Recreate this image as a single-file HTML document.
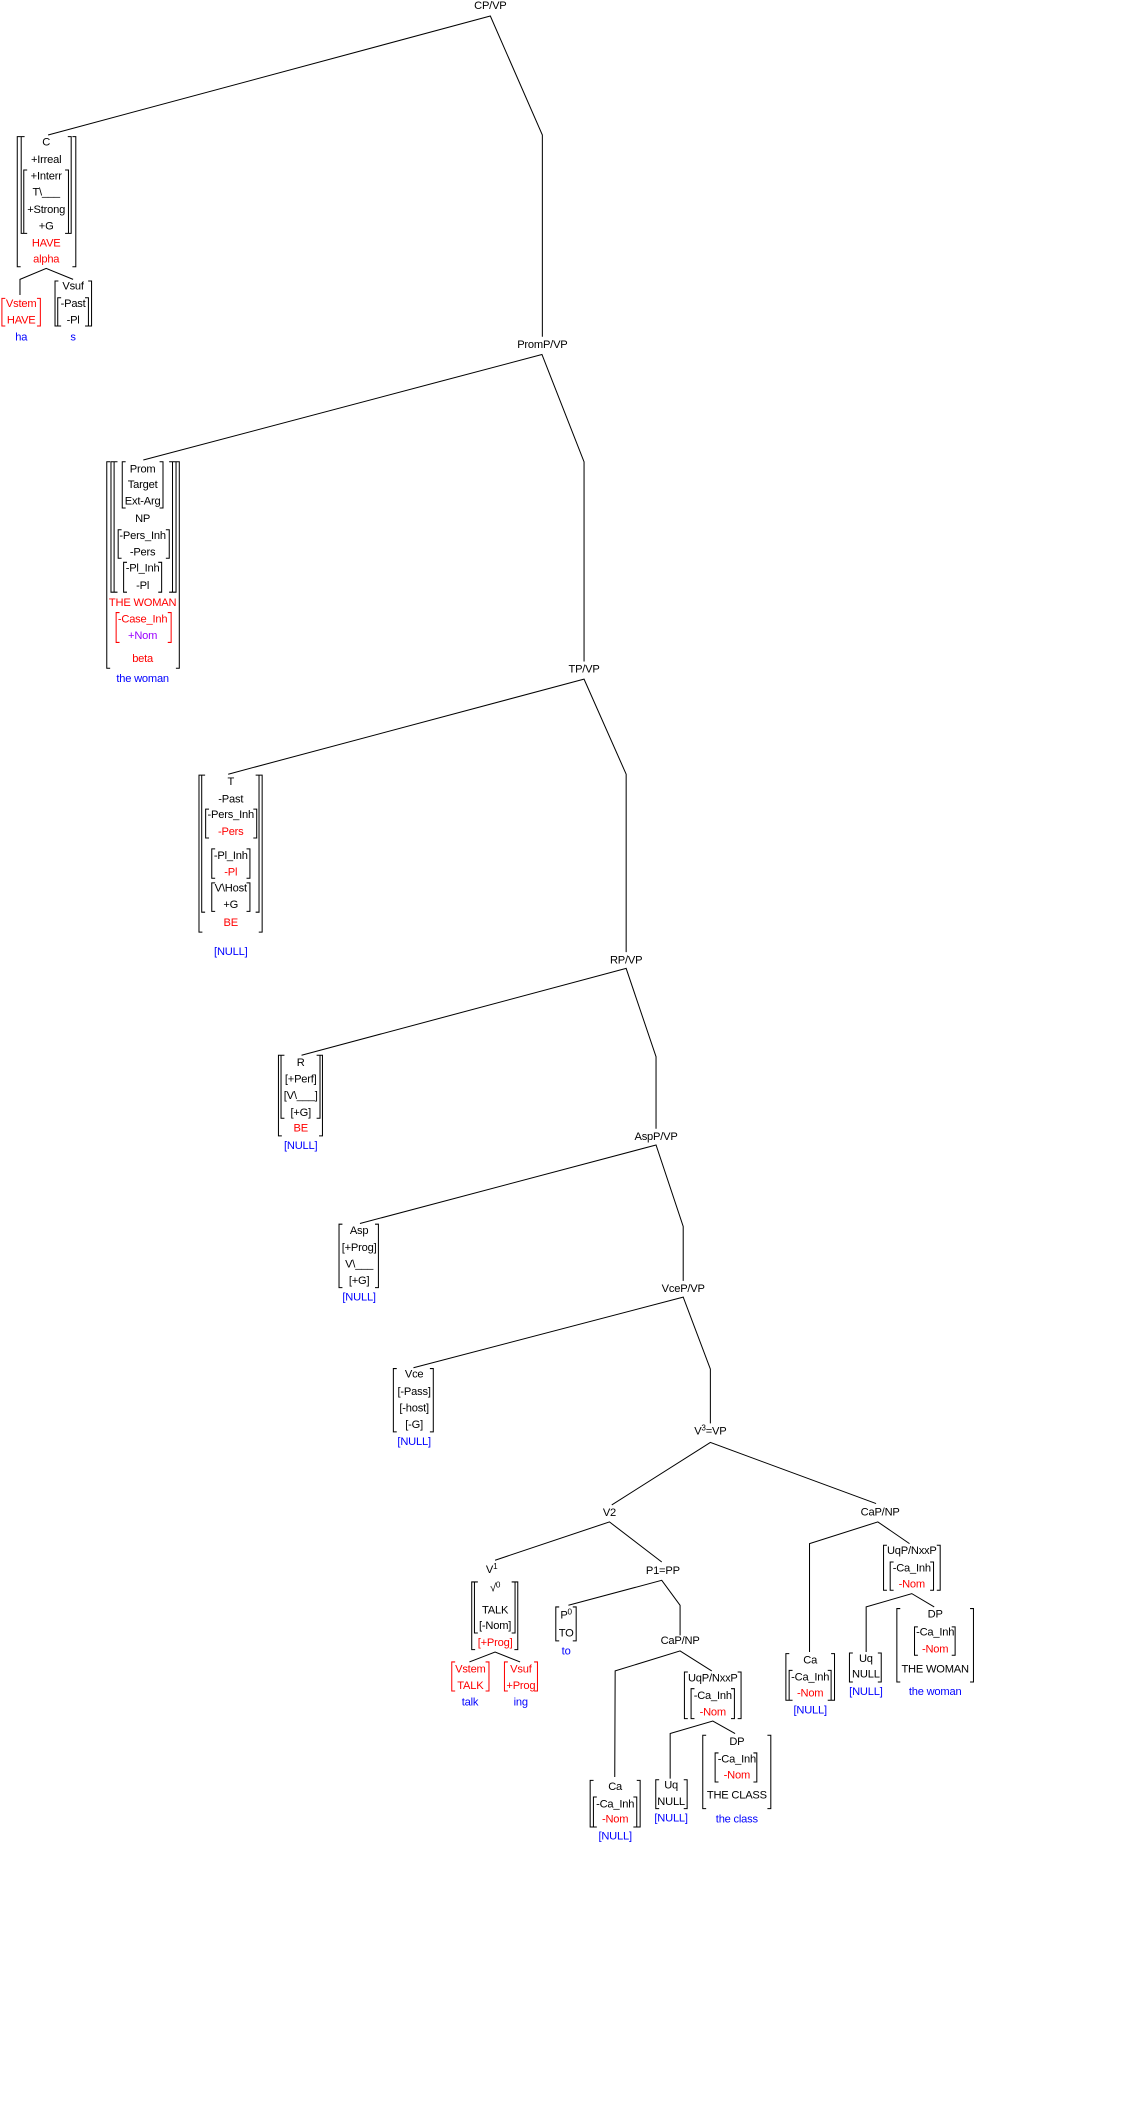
<!DOCTYPE html>
<html><head><meta charset="utf-8"><style>
html,body{margin:0;padding:0;background:#fff;}
svg{display:block;}
text{font-family:"Liberation Sans",Arial,sans-serif;font-size:8.2px;letter-spacing:-0.15px;text-anchor:middle;dominant-baseline:central;fill:#000;}
.r{fill:#ff0000}.b{fill:#0000ff}.p{fill:#9900ff}
path,polyline{fill:none;stroke:#000;stroke-width:0.75}
.rb{stroke:#ff0000}
</style></head><body>
<svg width="1126" height="2127" viewBox="0 0 829 1566" xmlns="http://www.w3.org/2000/svg">
<polyline points="35.4,99.4 361,11.8 399.3,99.4 399.3,247.9"/>
<polyline points="105.5,338.7 399,261 430,340 430,487"/>
<polyline points="168,570 430,500 461,570 461,701"/>
<polyline points="222,776.9 461,713 483,778 483,831"/>
<polyline points="265,900.8 483,843 503,903 503,943"/>
<polyline points="304.4,1007 503,955 523,1008 523,1048"/>
<polyline points="450.4,1108 523,1062 645,1107"/>
<polyline points="364.5,1148.7 448.7,1120.5 487.2,1150"/>
<polyline points="418.5,1181.9 487.2,1163.5 500.7,1181.9 500.7,1204"/>
<polyline points="452.6,1308.3 452.9,1230.2 500.7,1215.5 524,1230.2"/>
<polyline points="493.4,1309.5 493.4,1276.3 524.8,1267.1 541.2,1276.3"/>
<polyline points="596,1216.3 596,1136.5 646.3,1120.5 669.6,1136.5"/>
<polyline points="637.7,1216.3 637.7,1183.1 671.3,1173.3 687.8,1183.1"/>
<polyline points="14.7,217.2 14.7,205.7 34,197.6 53.8,205.7"/>
<polyline points="345.6,1223.6 364.5,1216.3 382.9,1223.6"/>

<path d="
M15.2,100.6H12.7V196.4H15.2 M53.3,100.6H55.8V196.4H53.3
M18.1,100.6H15.6V171.8H18.1 M49.9,100.6H52.4V171.8H49.9
M20,125.2H17.5V171.8H20 M47.9,125.2H50.4V171.8H47.9
M43,206.9H40.5V240H43 M64.9,206.9H67.4V240H64.9
M45,219.2H42.5V240H45 M62.6,219.2H65.1V240H62.6
M81.1,340H78.6V492H81.1 M129.5,340H132V492H129.5
M84.2,340H81.7V436H84.2 M127.1,340H129.6V436H127.1
M86.5,340H84V436H86.5 M124.5,340H127V436H124.5
M92.5,340H90V374H92.5 M117.5,340H120V374H117.5
M89.5,390H87V411H89.5 M122.1,390H124.6V411H122.1
M93.5,414H91V436H93.5 M116.5,414H119V436H116.5
M149,570.7H146.5V686.3H149 M190.5,570.7H193V686.3H190.5
M151,570.7H148.5V671.6H151 M188.2,570.7H190.7V671.6H188.2
M153.9,595.7H151.4V617H153.9 M186.5,595.7H189V617H186.5
M158.4,625H155.9V646.6H158.4 M181.5,625H184V646.6H181.5
M158.4,650H155.9V671H158.4 M181.5,650H184V671H181.5
M207.5,776.9H205V836.3H207.5 M234.9,776.9H237.4V836.3H234.9
M209.4,776.9H206.9V823.3H209.4 M233.1,776.9H235.6V823.3H233.1
M252.1,901.3H249.6V948H252.1 M276.1,901.3H278.6V948H276.1
M292.1,1007.6H289.6V1054.2H292.1 M316.5,1007.6H319V1054.2H316.5
M349.8,1164.7H347.3V1214.5H349.8 M378.7,1164.7H381.2V1214.5H378.7
M351.8,1164.7H349.3V1202.3H351.8 M376.7,1164.7H379.2V1202.3H376.7
M411.7,1183.1H409.2V1208.1H411.7 M421.7,1183.1H424.2V1208.1H421.7
M506.4,1231H503.9V1265.3H506.4 M543.1,1231H545.6V1265.3H543.1
M511.3,1243.3H508.8V1265.3H511.3 M538.2,1243.3H540.7V1265.3H538.2
M437,1310.8H434.5V1345.1H437 M468.8,1310.8H471.3V1345.1H468.8
M439.4,1323H436.9V1345.1H439.4 M466.3,1323H468.8V1345.1H466.3
M485.3,1310.3H482.8V1331.6H485.3 M503.4,1310.3H505.9V1331.6H503.4
M519.9,1277.6H517.4V1331.6H519.9 M565,1277.6H567.5V1331.6H565
M529,1290.6H526.5V1312H529 M554.7,1290.6H557.2V1312H554.7
M653,1137.7H650.5V1170.8H653 M689.7,1137.7H692.2V1170.8H689.7
M657.9,1150H655.4V1170.8H657.9 M684.8,1150H687.3V1170.8H684.8
M581.1,1217.5H578.6V1251.8H581.1 M611.9,1217.5H614.4V1251.8H611.9
M583.5,1229.8H581V1251.8H583.5 M609.4,1229.8H611.9V1251.8H609.4
M627.9,1217H625.4V1238.4H627.9 M646.3,1217H648.8V1238.4H646.3
M662.8,1184.3H660.3V1238.4H662.8 M714.2,1184.3H716.7V1238.4H714.2
M675.8,1197.8H673.3V1218.7H675.8 M700.7,1197.8H703.2V1218.7H700.7
"/>
<path class="rb" d="
M3.9,219.7H1.4V240H3.9 M27.2,219.7H29.7V240H27.2
M88,451H85.5V473H88 M123.5,451H126V473H123.5
M335.1,1223.6H332.6V1245H335.1 M357.5,1223.6H360V1245H357.5
M373.9,1223.6H371.4V1245H373.9 M393.2,1223.6H395.7V1245H393.2
"/>

<text x="361" y="4.4">CP/VP</text>
<text x="399.3" y="254">PromP/VP</text>
<text x="430" y="493">TP/VP</text>
<text x="461" y="707">RP/VP</text>
<text x="483" y="837">AspP/VP</text>
<text x="503" y="949">VceP/VP</text>
<text x="523" y="1054">V<tspan font-size="6" dy="-3">3</tspan><tspan dy="3">=VP</tspan></text>
<text x="448.7" y="1113.9">V2</text>
<text x="648" y="1113.6">CaP/NP</text>
<text x="362" y="1156">V<tspan font-size="6" dy="-3">1</tspan></text>
<text x="488" y="1156.6">P1=PP</text>
<text x="500.7" y="1208.2">CaP/NP</text>

<text x="34" y="105">C</text>
<text x="34" y="117.8">+Irreal</text>
<text x="34" y="130.1">+Interr</text>
<text x="34" y="141.9">T\___</text>
<text x="34" y="154.6">+Strong</text>
<text x="34" y="166.9">+G</text>
<text x="34" y="179.2" class="r">HAVE</text>
<text x="34" y="191" class="r">alpha</text>
<text x="15.6" y="223.9" class="r">Vstem</text>
<text x="15.6" y="236.1" class="r">HAVE</text>
<text x="15.6" y="248.4" class="b">ha</text>
<text x="53.8" y="211.1">Vsuf</text>
<text x="53.8" y="223.9">-Past</text>
<text x="53.8" y="236.1">-Pl</text>
<text x="53.8" y="248.4" class="b">s</text>

<text x="105" y="345.6">Prom</text>
<text x="105" y="357.2">Target</text>
<text x="105" y="369.4">Ext-Arg</text>
<text x="105" y="382.2">NP</text>
<text x="105" y="394.5">-Pers_Inh</text>
<text x="105" y="406.7">-Pers</text>
<text x="105" y="418.5">-Pl_Inh</text>
<text x="105" y="431.3">-Pl</text>
<text x="105" y="443.8" class="r">THE WOMAN</text>
<text x="105" y="456" class="r">-Case_Inh</text>
<text x="105" y="468.3" class="p">+Nom</text>
<text x="105" y="485.3" class="r">beta</text>
<text x="105" y="500" class="b">the woman</text>

<text x="169.9" y="575.6">T</text>
<text x="169.9" y="588.6">-Past</text>
<text x="169.9" y="600.1">-Pers_Inh</text>
<text x="169.9" y="612.4" class="r">-Pers</text>
<text x="169.9" y="630.1">-Pl_Inh</text>
<text x="169.9" y="642.3" class="r">-Pl</text>
<text x="169.9" y="654.1">V\Host</text>
<text x="169.9" y="666.4">+G</text>
<text x="169.9" y="679.4" class="r">BE</text>
<text x="169.9" y="700.8" class="b">[NULL]</text>

<text x="221.4" y="782.5">R</text>
<text x="221.4" y="794.8">[+Perf]</text>
<text x="221.4" y="807.1">[V\___]</text>
<text x="221.4" y="819.4">[+G]</text>
<text x="221.4" y="830.9" class="r">BE</text>
<text x="221.4" y="843.9" class="b">[NULL]</text>

<text x="264.4" y="906.5">Asp</text>
<text x="264.4" y="918.7">[+Prog]</text>
<text x="264.4" y="931">V\___</text>
<text x="264.4" y="943.3">[+G]</text>
<text x="264.4" y="955.3" class="b">[NULL]</text>

<text x="304.9" y="1012">Vce</text>
<text x="304.9" y="1024.8">[-Pass]</text>
<text x="304.9" y="1037">[-host]</text>
<text x="304.9" y="1049.3">[-G]</text>
<text x="304.9" y="1061.6" class="b">[NULL]</text>

<text x="364.5" y="1169.6">√<tspan font-size="6" dy="-3">0</tspan></text>
<text x="364.5" y="1185.6">TALK</text>
<text x="364.5" y="1197.3">[-Nom]</text>
<text x="364.5" y="1209.6" class="r">[+Prog]</text>
<text x="346.3" y="1229" class="r">Vstem</text>
<text x="346.3" y="1241.3" class="r">TALK</text>
<text x="346" y="1253.5" class="b">talk</text>
<text x="383.5" y="1229" class="r">Vsuf</text>
<text x="383.5" y="1241.3" class="r">+Prog</text>
<text x="383.4" y="1253.5" class="b">ing</text>

<text x="416.8" y="1189.3">P<tspan font-size="6" dy="-3">0</tspan></text>
<text x="416.8" y="1202.7">TO</text>
<text x="416.8" y="1215.8" class="b">to</text>

<text x="524.8" y="1235.9">UqP/NxxP</text>
<text x="524.8" y="1248.7">-Ca_Inh</text>
<text x="524.8" y="1260.9" class="r">-Nom</text>
<text x="452.9" y="1315.7">Ca</text>
<text x="452.9" y="1328.4">-Ca_Inh</text>
<text x="452.9" y="1339.7" class="r">-Nom</text>
<text x="452.9" y="1352" class="b">[NULL]</text>
<text x="494.1" y="1314.4">Uq</text>
<text x="494.1" y="1326.7">NULL</text>
<text x="494.1" y="1339" class="b">[NULL]</text>
<text x="542.5" y="1282.5">DP</text>
<text x="542.5" y="1295.3">-Ca_Inh</text>
<text x="542.5" y="1307.1" class="r">-Nom</text>
<text x="542.5" y="1321.8">THE CLASS</text>
<text x="542.5" y="1339.5" class="b">the class</text>

<text x="671.3" y="1141.9">UqP/NxxP</text>
<text x="671.3" y="1154.9">-Ca_Inh</text>
<text x="671.3" y="1166.5" class="r">-Nom</text>
<text x="596.5" y="1222.4">Ca</text>
<text x="596.5" y="1235.1">-Ca_Inh</text>
<text x="596.5" y="1246.9" class="r">-Nom</text>
<text x="596.5" y="1259.2" class="b">[NULL]</text>
<text x="637.5" y="1221.6">Uq</text>
<text x="637.5" y="1232.9">NULL</text>
<text x="637.5" y="1245.7" class="b">[NULL]</text>
<text x="688.5" y="1188.5">DP</text>
<text x="688.5" y="1202">-Ca_Inh</text>
<text x="688.5" y="1214.5" class="r">-Nom</text>
<text x="688.5" y="1229">THE WOMAN</text>
<text x="688.5" y="1245.7" class="b">the woman</text>
</svg>
</body></html>
